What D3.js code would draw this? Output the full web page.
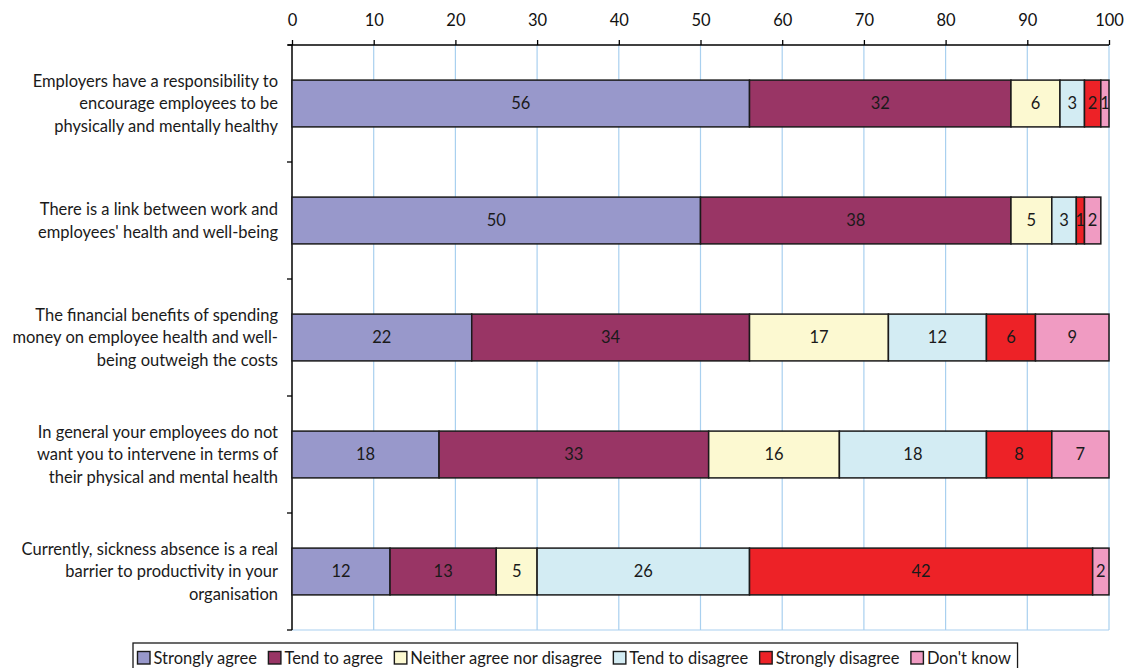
<!DOCTYPE html>
<html>
<head>
<meta charset="utf-8">
<script src="https://cdn.jsdelivr.net/npm/d3@7"></script>
<style>
  html, body { margin: 0; padding: 0; background: #fff; }
  svg { display: block; font-family: Lato, "Open Sans", sans-serif; }
</style>
</head>
<body>
<svg id="chart" width="1125" height="668"></svg>
<script>
// Survey statements (each entry is a list of wrapped lines)
const statements = [
  ["Employers have a responsibility to", "encourage employees to be", "physically and mentally healthy"],
  ["There is a link between work and", "employees' health and well-being"],
  ["The financial benefits of spending", "money on employee health and well-", "being outweigh the costs"],
  ["In general your employees do not", "want you to intervene in terms of", "their physical and mental health"],
  ["Currently, sickness absence is a real", "barrier to productivity in your", "organisation"]
];

// Response categories
const responses = ["Strongly agree", "Tend to agree", "Neither agree nor disagree", "Tend to disagree", "Strongly disagree", "Don't know"];

// Percentages per response, one value per statement
const stronglyAgree    = [56, 50, 22, 18, 12];
const tendToAgree      = [32, 38, 34, 33, 13];
const neither          = [6, 5, 17, 16, 5];
const tendToDisagree   = [3, 3, 12, 18, 26];
const stronglyDisagree = [2, 1, 6, 8, 42];
const dontKnow         = [1, 2, 9, 7, 2];

const xTicks = [0, 10, 20, 30, 40, 50, 60, 70, 80, 90, 100];

const colors = ["#9898cb", "#993565", "#fcf9d1", "#d3ecf3", "#ed2227", "#f09bc2"];

(function draw() {
  const seriesValues = [stronglyAgree, tendToAgree, neither, tendToDisagree, stronglyDisagree, dontKnow];

  const rows = statements.map((s, i) => {
    const row = { idx: i };
    responses.forEach((r, k) => { row[r] = seriesValues[k][i]; });
    return row;
  });

  const stacked = d3.stack().keys(responses)(rows);

  const svg = d3.select("#chart");
  const plotL = 292, plotR = 1109, plotT = 45, plotB = 630;
  const fontSize = 16.5;

  const x = d3.scaleLinear().domain([0, 100]).range([plotL, plotR]);
  const y = d3.scaleBand().domain(d3.range(statements.length)).range([plotT, plotB]).paddingInner(0.6).paddingOuter(0.3);
  const band = d3.scaleBand().domain(d3.range(statements.length)).range([plotT, plotB]);

  // vertical gridlines
  svg.append("g").selectAll("line").data(xTicks.slice(1)).join("line")
    .attr("x1", d => x(d)).attr("x2", d => x(d))
    .attr("y1", plotT).attr("y2", plotB)
    .attr("stroke", "#a9d0ef").attr("stroke-width", 1.2);

  // bottom frame line
  svg.append("line").attr("x1", plotL).attr("x2", plotR).attr("y1", plotB).attr("y2", plotB)
    .attr("stroke", "#a9d0ef").attr("stroke-width", 1.2);

  // top axis
  const xAxis = d3.axisTop(x).tickValues(xTicks).tickSize(5).tickSizeOuter(0).tickFormat(d3.format("d"));
  const gx = svg.append("g").attr("transform", `translate(0,${plotT})`).call(xAxis);
  gx.select(".domain").attr("stroke", "#000").attr("stroke-width", 1.3).attr("d", `M${plotL - 4},0H${plotR}`);
  gx.selectAll(".tick line").attr("stroke", "#000").attr("stroke-width", 1.3);
  gx.selectAll(".tick text").attr("font-size", fontSize).attr("fill", "#111").attr("y", -25).attr("dy", "0.35em")
    .attr("font-family", "Lato, \"Open Sans\", sans-serif");

  // left axis line with ticks at band boundaries
  svg.append("line").attr("x1", plotL).attr("x2", plotL).attr("y1", plotT).attr("y2", plotB)
    .attr("stroke", "#000").attr("stroke-width", 1.5);
  const boundaries = d3.range(statements.length + 1).map(i => i < statements.length ? band(i) : plotB);
  svg.append("g").selectAll("line").data(boundaries).join("line")
    .attr("x1", plotL - 5).attr("x2", plotL).attr("y1", d => d).attr("y2", d => d)
    .attr("stroke", "#000").attr("stroke-width", 1.3);

  // category labels
  const lineH = 22.5;
  statements.forEach((lines, i) => {
    const cy = y(i) + y.bandwidth() / 2;
    const t = svg.append("text").attr("text-anchor", "end").attr("font-size", fontSize).attr("fill", "#1a1a1a");
    lines.forEach((ln, j) => {
      t.append("tspan").attr("x", 278)
        .attr("y", cy + (j - (lines.length - 1) / 2) * lineH)
        .attr("dy", "0.35em").text(ln);
    });
  });

  // stacked bars
  const layers = svg.append("g").selectAll("g").data(stacked).join("g")
    .attr("fill", (d, k) => colors[k]);

  layers.selectAll("rect").data(d => d).join("rect")
    .attr("x", d => x(d[0]))
    .attr("y", d => y(d.data.idx))
    .attr("width", d => x(d[1]) - x(d[0]))
    .attr("height", y.bandwidth())
    .attr("stroke", "#1a1a1a").attr("stroke-width", 1.5);

  layers.selectAll("text").data(d => d).join("text")
    .attr("x", d => (x(d[0]) + x(d[1])) / 2)
    .attr("y", d => y(d.data.idx) + y.bandwidth() / 2)
    .attr("dy", "0.35em").attr("text-anchor", "middle")
    .attr("font-size", fontSize).attr("fill", "#1a1a1a")
    .text(d => d[1] - d[0]);

  // legend
  const legend = svg.append("g");
  const box = legend.append("rect").attr("x", 133).attr("y", 643).attr("height", 30)
    .attr("fill", "#fff").attr("stroke", "#1a1a1a").attr("stroke-width", 1.3);
  let lx = 137.5;
  responses.forEach((r, k) => {
    legend.append("rect").attr("x", lx).attr("y", 651.5).attr("width", 12.5).attr("height", 12.5)
      .attr("fill", colors[k]).attr("stroke", "#1a1a1a").attr("stroke-width", 1.4);
    const t = legend.append("text").attr("x", lx + 16).attr("y", 658).attr("dy", "0.35em")
      .attr("font-size", fontSize).attr("fill", "#1a1a1a").text(r);
    lx += 16 + t.node().getComputedTextLength() + 11.5;
  });
  box.attr("width", lx - 133 - 5);
})();
</script>
</body>
</html>
